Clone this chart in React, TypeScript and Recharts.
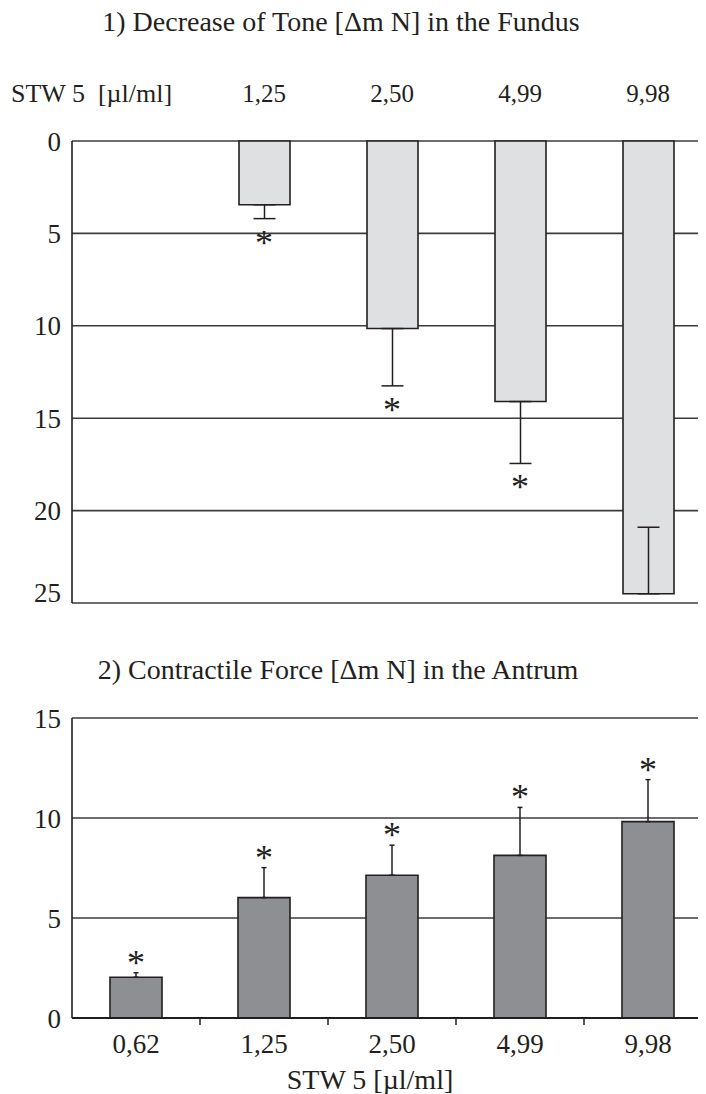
import { Bar, CartesianGrid, ComposedChart, ErrorBar, Scatter, XAxis, YAxis } from "recharts";

const FONT = '"Liberation Serif", "Times New Roman", serif';
const INK = "#231f20";

// concentrations of STW 5 [µl/ml]
const doses = ["0,62", "1,25", "2,50", "4,99", "9,98"];

// 1) decrease of tone in the fundus (no value for 0,62)
const fundusTone = [null, 3.45, 10.15, 14.1, 24.5];
const fundusErr = [[0, 0], [0, 0.75], [0, 3.1], [0, 3.35], [3.6, 0]];
const fundusSig = [false, true, true, true, false];
const fundusTicks = [0, 5, 10, 15, 20, 25];

// 2) contractile force in the antrum
const antrumForce = [2.04, 6.02, 7.14, 8.13, 9.82];
const antrumErr = [[0, 0.22], [0, 1.5], [0, 1.5], [0, 2.4], [0, 2.1]];
const antrumSig = [true, true, true, true, true];
const antrumTicks = [0, 5, 10, 15];

const fundusData = doses.map((dose, i) => ({
  dose,
  value: fundusTone[i],
  err: fundusErr[i],
  star: fundusSig[i] && fundusTone[i] != null ? (fundusTone[i] as number) + fundusErr[i][1] : null,
}));

const antrumData = doses.map((dose, i) => ({
  dose,
  value: antrumForce[i],
  err: antrumErr[i],
  star: antrumSig[i] ? antrumForce[i] + antrumErr[i][1] : null,
}));

const tickStyle = { fill: INK, fontSize: 27, fontFamily: FONT };

function HeaderTick(props: any) {
  const { x, y, payload, index } = props;
  if (fundusTone[index] == null) return <g />;
  return (
    <text x={x} y={y - 39} textAnchor="middle" fill={INK} fontSize={25} fontFamily={FONT}>
      {payload.value}
    </text>
  );
}

// dose label plus a small tick mark on the boundary to the next group
function DoseTick(props: any) {
  const { x, y, payload, index, width, visibleTicksCount } = props;
  const half = width / visibleTicksCount / 2;
  return (
    <g>
      <text x={x} y={y + 35} textAnchor="middle" fill={INK} fontSize={27} fontFamily={FONT}>
        {payload.value}
      </text>
      {index < visibleTicksCount - 1 && (
        <line x1={x + half} x2={x + half} y1={y} y2={y + 7} stroke={INK} strokeWidth={1.5} />
      )}
    </g>
  );
}

function Star({ cx, cy, below }: { cx?: number; cy?: number; below: boolean }) {
  if (cx == null || cy == null || Number.isNaN(cy)) return <g />;
  return (
    <text x={cx} y={below ? cy + 36 : cy + 2} textAnchor="middle" fill={INK} fontSize={36} fontFamily={FONT}>
      *
    </text>
  );
}

export default function App() {
  return (
    <div style={{ position: "relative", width: 706, height: 1094, margin: "-8px 0 0 -8px", overflow: "hidden", background: "#fff" }}>
      <div style={{ position: "absolute", left: 0, top: 0 }}>
        <ComposedChart width={720} height={608} data={fundusData} margin={{ top: 101, right: 8, bottom: 5, left: 0 }}>
          <CartesianGrid vertical={false} stroke="#3c3c3c" strokeWidth={1.6} />
          <XAxis
            dataKey="dose"
            orientation="top"
            height={40}
            axisLine={false}
            tickLine={false}
            tickSize={0}
            tickMargin={0}
            interval={0}
            tick={<HeaderTick />}
          />
          <YAxis
            reversed
            domain={[0, 25]}
            ticks={fundusTicks}
            width={72}
            axisLine={{ stroke: INK, strokeWidth: 1.6 }}
            tickLine={false}
            tickSize={0}
            tickMargin={11}
            tick={tickStyle}
          />
          <Bar dataKey="value" barSize={51} fill="#dfe0e2" stroke={INK} strokeWidth={1.6} isAnimationActive={false}>
            <ErrorBar dataKey="err" direction="y" width={11} stroke={INK} strokeWidth={1.5} />
          </Bar>
          <Scatter dataKey="star" isAnimationActive={false} shape={(p: any) => <Star cx={p.cx} cy={p.cy} below />} />
        </ComposedChart>
      </div>

      <div style={{ position: "absolute", left: 0, top: 620 }}>
        <ComposedChart width={720} height={474} data={antrumData} margin={{ top: 98, right: 8, bottom: 27, left: 0 }}>
          <CartesianGrid vertical={false} stroke="#3c3c3c" strokeWidth={1.6} />
          <XAxis
            dataKey="dose"
            height={49}
            axisLine={{ stroke: INK, strokeWidth: 2 }}
            tickLine={false}
            tickSize={0}
            tickMargin={0}
            interval={0}
            tick={<DoseTick />}
          />
          <YAxis
            domain={[0, 15]}
            ticks={antrumTicks}
            width={72}
            axisLine={{ stroke: INK, strokeWidth: 1.6 }}
            tickLine={false}
            tickSize={0}
            tickMargin={11}
            tick={tickStyle}
          />
          <Bar dataKey="value" barSize={52} fill="#8e8f93" stroke={INK} strokeWidth={1.6} isAnimationActive={false}>
            <ErrorBar dataKey="err" direction="y" width={2.5} stroke={INK} strokeWidth={1.5} />
          </Bar>
          <Scatter dataKey="star" isAnimationActive={false} shape={(p: any) => <Star cx={p.cx} cy={p.cy} below={false} />} />
        </ComposedChart>
      </div>

      <svg width={706} height={1094} style={{ position: "absolute", left: 0, top: 0, pointerEvents: "none" }}>
        <g fill={INK} fontFamily={FONT}>
          <text x={341} y={31} textAnchor="middle" fontSize={28}>1) Decrease of Tone [Δm N] in the Fundus</text>
          <text x={11} y={102} fontSize={26} style={{ whiteSpace: "pre" }}>STW 5  [µl/ml]</text>
          <text x={338} y={679} textAnchor="middle" fontSize={28}>2) Contractile Force [Δm N] in the Antrum</text>
          <text x={370} y={1089} textAnchor="middle" fontSize={28}>STW 5 [µl/ml]</text>
        </g>
      </svg>
    </div>
  );
}
